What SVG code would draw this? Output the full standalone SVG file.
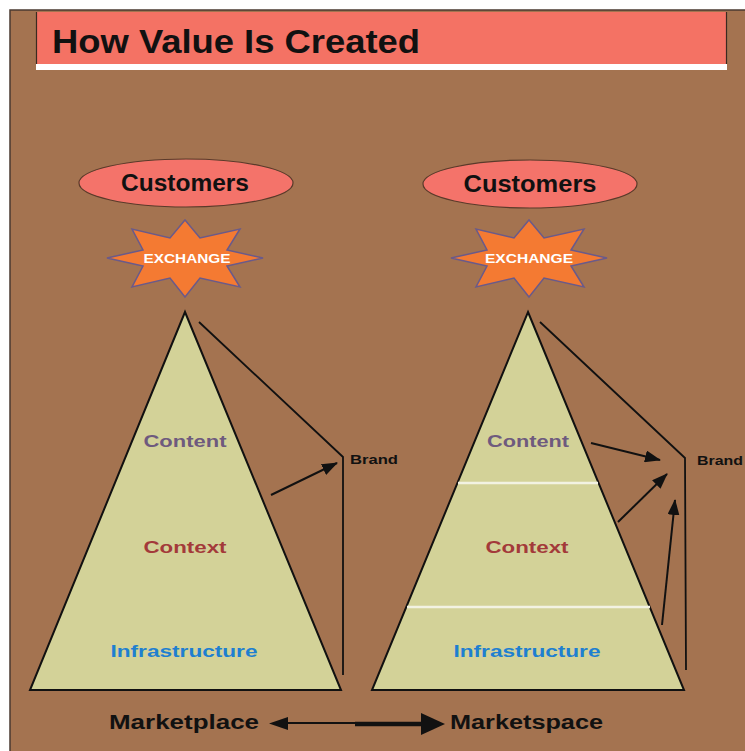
<svg xmlns="http://www.w3.org/2000/svg" width="745" height="751" viewBox="0 0 745 751">
<style>
.bold{font-family:"Liberation Sans",Arial,sans-serif;font-weight:bold}
.ell{fill:#F4736A;stroke:#5a3a2a;stroke-width:1.2}
.star{fill:#F47A32;stroke:#6A5A8A;stroke-width:1.5}
.tri{fill:#D3D298;stroke:#111;stroke-width:2}
.ln{stroke:#111;stroke-width:1.8;fill:none}
.arr{stroke:#111;stroke-width:2;fill:none;marker-end:url(#ah)}
.sep{stroke:#F2F2E2;stroke-width:2.5}
</style>
<defs>
<path id="starShape" d="M78,0 L42,8 L55,29 L15,20 L0,39 L-15,20 L-53,29 L-42,8 L-78,0 L-42,-8 L-53,-29 L-15,-20 L0,-38 L15,-20 L55,-29 L42,-8 Z"/>
<marker id="ah" markerWidth="16" markerHeight="12" refX="15" refY="6" orient="auto" markerUnits="userSpaceOnUse">
<path d="M0,0 L16,6 L0,12 Z" fill="#111"/>
</marker>
</defs>
<rect x="0" y="0" width="745" height="751" fill="#ffffff"/>
<rect x="10" y="10" width="740" height="746" fill="#A47350" stroke="#4a3a30" stroke-width="1.5"/>
<g id="title">
<rect x="36" y="12" width="691" height="52" fill="#F47264"/>
<line x1="36.5" y1="12" x2="36.5" y2="64" stroke="#3a2a20" stroke-width="1.2"/>
<line x1="726.5" y1="12" x2="726.5" y2="64" stroke="#3a2a20" stroke-width="1.2"/>
<rect x="36" y="64" width="691" height="6" fill="#ffffff"/>
<text x="52" y="53" class="bold" font-size="34" textLength="368" lengthAdjust="spacingAndGlyphs" fill="#111">How Value Is Created</text>
</g>
<g id="customers-left">
<ellipse cx="186" cy="183" rx="107" ry="24" class="ell"/>
<text x="185" y="191" class="bold" font-size="23" text-anchor="middle" textLength="128" lengthAdjust="spacingAndGlyphs" fill="#111">Customers</text>
</g>
<g id="customers-right">
<ellipse cx="530" cy="184" rx="107" ry="24" class="ell"/>
<text x="530" y="192" class="bold" font-size="23" text-anchor="middle" textLength="133" lengthAdjust="spacingAndGlyphs" fill="#111">Customers</text>
</g>
<g id="exchange-left">
<use href="#starShape" transform="translate(185,258)" class="star"/>
<text x="187" y="263" class="bold" font-size="13" text-anchor="middle" textLength="87" lengthAdjust="spacingAndGlyphs" fill="#ffffff">EXCHANGE</text>
</g>
<g id="exchange-right">
<use href="#starShape" transform="translate(529,258)" class="star"/>
<text x="529" y="263" class="bold" font-size="13" text-anchor="middle" textLength="88" lengthAdjust="spacingAndGlyphs" fill="#ffffff">EXCHANGE</text>
</g>
<g id="pyramid-left">
<polygon points="185,312 341,690 30,690" class="tri"/>
<text x="185" y="447" class="bold" font-size="17" text-anchor="middle" textLength="83" lengthAdjust="spacingAndGlyphs" fill="#6E5A7E">Content</text>
<text x="185" y="553" class="bold" font-size="17" text-anchor="middle" textLength="83" lengthAdjust="spacingAndGlyphs" fill="#A33A3A">Context</text>
<text x="184" y="657" class="bold" font-size="17" text-anchor="middle" textLength="147" lengthAdjust="spacingAndGlyphs" fill="#1E7FD0">Infrastructure</text>
</g>
<g id="pyramid-right">
<polygon points="528,312 684,690 372,690" class="tri"/>
<line x1="458" y1="483" x2="598" y2="483" class="sep"/>
<line x1="407" y1="607" x2="650" y2="607" class="sep"/>
<text x="528" y="447" class="bold" font-size="17" text-anchor="middle" textLength="82" lengthAdjust="spacingAndGlyphs" fill="#6E5A7E">Content</text>
<text x="527" y="553" class="bold" font-size="17" text-anchor="middle" textLength="83" lengthAdjust="spacingAndGlyphs" fill="#A33A3A">Context</text>
<text x="527" y="657" class="bold" font-size="17" text-anchor="middle" textLength="147" lengthAdjust="spacingAndGlyphs" fill="#1E7FD0">Infrastructure</text>
</g>
<g id="brand-left">
<text x="350" y="464" class="bold" font-size="13.5" textLength="48" lengthAdjust="spacingAndGlyphs" fill="#111">Brand</text>
</g>
<g id="brand-right">
<text x="697" y="465" class="bold" font-size="13.5" textLength="46" lengthAdjust="spacingAndGlyphs" fill="#111">Brand</text>
</g>
<g id="connectors">
<polyline points="199,322 343,457 343,675" class="ln"/>
<line x1="271" y1="495" x2="337" y2="463" class="arr"/>
<polyline points="540,322 685,458 686,670" class="ln"/>
<line x1="591" y1="443" x2="660" y2="460" class="arr"/>
<line x1="618" y1="522" x2="667" y2="474" class="arr"/>
<line x1="662" y1="625" x2="675" y2="500" class="arr"/>
<line x1="285" y1="723" x2="380" y2="723" stroke="#111" stroke-width="2"/>
<polygon points="269,723.5 288,717 288,730" fill="#111"/>
<line x1="355" y1="724" x2="425" y2="724" stroke="#111" stroke-width="4.5"/>
<polygon points="445,724 421,713 421,735" fill="#111"/>
</g>
<g id="marketplace">
<text x="109" y="729" class="bold" font-size="20" textLength="150" lengthAdjust="spacingAndGlyphs" fill="#111">Marketplace</text>
</g>
<g id="marketspace">
<text x="450" y="729" class="bold" font-size="20" textLength="153" lengthAdjust="spacingAndGlyphs" fill="#111">Marketspace</text>
</g>
</svg>
